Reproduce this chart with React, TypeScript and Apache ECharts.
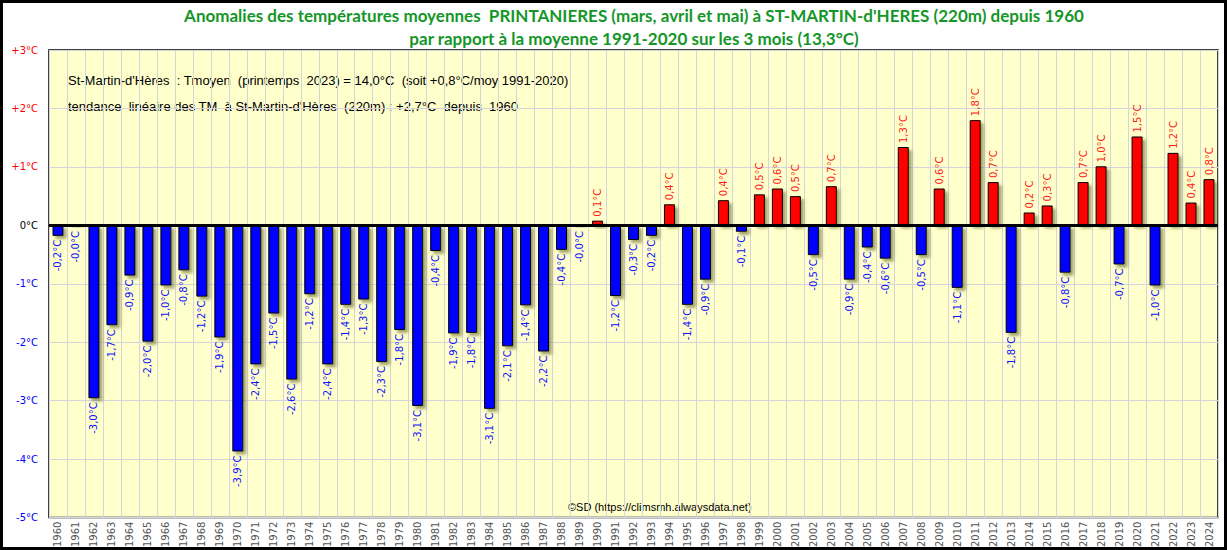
import React, { useEffect, useRef } from "react";
import * as echarts from "echarts";

const years: string[] = [];
for (let y = 1960; y <= 2024; y++) years.push(String(y));

const anomalies: number[] = [
  -0.18, -0.03, -2.96, -1.71, -0.86, -1.99, -1.03, -0.77, -1.22, -1.92,
  -3.87, -2.38, -1.51, -2.64, -1.18, -2.38, -1.36, -1.27, -2.34, -1.79,
  -3.09, -0.44, -1.85, -1.84, -3.14, -2.07, -1.37, -2.16, -0.42, -0.03,
  0.08, -1.21, -0.25, -0.18, 0.36, -1.36, -0.93, 0.43, -0.11, 0.53,
  0.63, 0.5, -0.51, 0.67, -0.93, -0.38, -0.57, 1.34, -0.51, 0.63,
  -1.07, 1.8, 0.74, -1.84, 0.22, 0.34, -0.81, 0.74, 1.01, -0.67,
  1.52, -1.03, 1.24, 0.39, 0.79,
];

const yTicks: number[] = [-5, -4, -3, -2, -1, 0, 1, 2, 3];

const titleLines: string[] = [
  "Anomalies des températures moyennes  PRINTANIERES (mars, avril et mai) à ST-MARTIN-d'HERES (220m) depuis 1960",
  "par rapport à la moyenne 1991-2020 sur les 3 mois (13,3°C)",
];

const noteLines: string[] = [
  "St-Martin-d'Hères  : Tmoyen  (printemps  2023) = 14,0°C  (soit +0,8°C/moy 1991-2020)",
  "tendance  linéaire des TM  à St-Martin-d'Hères  (220m) : +2,7°C  depuis  1960",
];

const credit = "©SD (https://climsmh.alwaysdata.net)";

function fmt(v: number): string {
  return (v < 0 ? "-" : "") + Math.abs(v).toFixed(1).replace(".", ",") + "°C";
}

export default function App() {
  const ref = useRef<HTMLDivElement>(null);
  useEffect(() => {
    document.body.style.margin = "0";
    const chart = echarts.init(ref.current!, null, { renderer: "svg" });
    const data = anomalies.map((v) => {
      const pos = v >= 0;
      return {
        value: v,
        itemStyle: { color: pos ? "#FF0000" : "#0000FF" },
        label: {
          show: true,
          position: pos ? "top" : "bottom",
          rotate: 90,
          align: pos ? "left" : "right",
          verticalAlign: "middle",
          distance: 4,
          color: pos ? "#FF2020" : "#1010FF",
          fontFamily: "DejaVu Sans",
          fontSize: 10,
          formatter: () => fmt(v),
        },
      };
    });
    chart.setOption({
      animation: false,
      backgroundColor: "#FFFFFF",
      grid: {
        left: 49,
        top: 50,
        right: 9,
        bottom: 32,
        show: true,
        backgroundColor: "#FFFFCC",
        borderColor: "#000000",
        borderWidth: 1.5,
      },
      xAxis: {
        type: "category",
        data: years,
        boundaryGap: true,
        axisLine: { show: false },
        axisTick: { show: false },
        splitLine: { show: true, interval: 0, lineStyle: { color: "#D4D4DC", width: 1 } },
        axisLabel: {
          interval: 0,
          rotate: 90,
          margin: 4,
          color: "#555555",
          fontFamily: "DejaVu Sans",
          fontSize: 10,
        },
      },
      yAxis: {
        type: "value",
        min: yTicks[0],
        max: yTicks[yTicks.length - 1],
        interval: 1,
        axisLine: { show: false },
        axisTick: { show: false },
        splitLine: { show: true, lineStyle: { color: "#D4D4DC", width: 1 } },
        axisLabel: {
          margin: 11,
          fontFamily: "DejaVu Sans",
          fontSize: 10,
          formatter: (v: number) => (v > 0 ? "+" + v + "°C" : v + "°C"),
          color: (v: any) => {
            const n = Number(v);
            return n > 0 ? "#FF0000" : n < 0 ? "#0000FF" : "#000000";
          },
        },
      },
      series: [
        {
          type: "bar",
          data,
          barWidth: 11,
          itemStyle: {
            borderColor: "#000000",
            borderWidth: 1,
            shadowColor: "rgba(90,90,30,0.55)",
            shadowOffsetX: 3,
            shadowOffsetY: 3,
            shadowBlur: 3,
          },
          markLine: {
            silent: true,
            symbol: "none",
            label: { show: false },
            lineStyle: { color: "#000000", width: 3, type: "solid" },
            data: [{ yAxis: 0 }],
          },
        },
      ],
      graphic: [
        {
          type: "text",
          x: 634,
          y: 15,
          style: {
            text: titleLines[0],
            fill: "#149628",
            font: "bold 17px Lato",
            align: "center",
            verticalAlign: "middle",
          },
        },
        {
          type: "text",
          x: 634,
          y: 38,
          style: {
            text: titleLines[1],
            fill: "#149628",
            font: "bold 17px Lato",
            align: "center",
            verticalAlign: "middle",
          },
        },
        {
          type: "text",
          x: 68,
          y: 80,
          style: {
            text: noteLines[0],
            fill: "#000000",
            font: "13px 'Liberation Sans'",
            verticalAlign: "middle",
          },
        },
        {
          type: "text",
          x: 68,
          y: 106,
          style: {
            text: noteLines[1],
            fill: "#000000",
            font: "13px 'Liberation Sans'",
            verticalAlign: "middle",
          },
        },
        {
          type: "text",
          x: 568,
          y: 507,
          style: {
            text: credit,
            fill: "#000000",
            font: "11px 'Liberation Sans'",
            verticalAlign: "middle",
          },
        },
        {
          type: "rect",
          shape: { x: 1.5, y: 1.5, width: 1224, height: 547 },
          style: { fill: "none", stroke: "#000000", lineWidth: 3 },
          silent: true,
          z: 100,
        },
      ],
    });
    return () => chart.dispose();
  }, []);
  return <div ref={ref} style={{ width: 1227, height: 550 }} />;
}
